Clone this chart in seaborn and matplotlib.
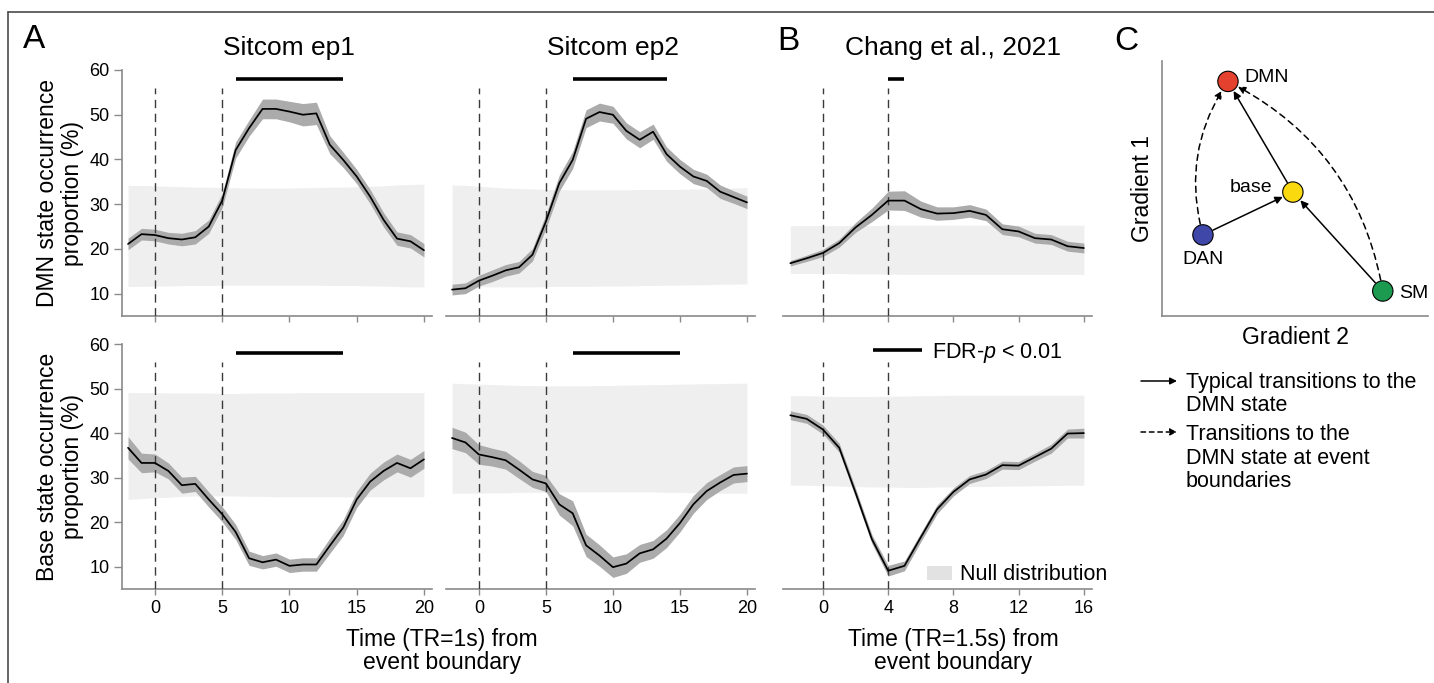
import numpy as np
import pandas as pd
import matplotlib
matplotlib.use("Agg")
import matplotlib.pyplot as plt
import seaborn as sns
from matplotlib.lines import Line2D
from matplotlib.patches import Patch

# ---------------- data ----------------
t_sitcom = [-2, -1, 0, 1, 2, 3, 4, 5, 6, 7, 8, 9, 10, 11, 12, 13, 14, 15, 16, 17, 18, 19, 20]
t_chang = [-2, -1, 0, 1, 2, 3, 4, 5, 6, 7, 8, 9, 10, 11, 12, 13, 14, 15, 16]

# DMN state occurrence (%)
dmn_ep1 = [21.1, 23.3, 23.1, 22.4, 22.1, 22.6, 25.0, 30.8, 42.1, 47.0, 51.3, 51.3, 50.7, 50.0, 50.3,
           43.3, 39.9, 36.2, 31.7, 26.5, 22.3, 21.7, 19.7]
dmn_ep1_err = [1.3, 1.3, 1.3, 1.3, 1.4, 1.5, 1.5, 1.6, 1.8, 1.8, 2.2, 2.2, 2.3, 2.5, 2.5,
               2.0, 1.7, 1.6, 1.6, 1.6, 1.5, 1.5, 1.5]
dmn_ep1_null_lo = [11.6, 11.6, 11.7, 11.7, 11.8, 11.8, 11.8, 11.9, 11.9, 11.9, 11.9, 11.9, 11.9, 11.9, 11.9,
                   11.8, 11.8, 11.8, 11.7, 11.7, 11.6, 11.5, 11.5]
dmn_ep1_null_hi = [34.2, 34.2, 34.1, 34.0, 33.9, 33.8, 33.8, 33.7, 33.7, 33.6, 33.6, 33.6, 33.6, 33.7, 33.7,
                   33.8, 33.8, 33.9, 34.0, 34.1, 34.3, 34.4, 34.5]
dmn_ep1_sig = [(6, 14)]

dmn_ep2 = [10.9, 11.2, 12.9, 14.0, 15.2, 15.9, 18.7, 26.1, 34.7, 39.9, 49.1, 50.6, 50.0, 46.4, 44.4,
           46.2, 41.2, 38.4, 36.2, 35.2, 32.8, 31.6, 30.4]
dmn_ep2_err = [1.2, 1.2, 1.2, 1.3, 1.3, 1.3, 1.4, 1.6, 1.8, 1.9, 2.0, 2.0, 1.9, 1.8, 1.8,
               1.7, 1.6, 1.6, 1.6, 1.5, 1.5, 1.4, 1.4]
dmn_ep2_null_lo = [11.6, 11.6, 11.6, 11.5, 11.5, 11.5, 11.5, 11.6, 11.6, 11.6, 11.6, 11.7, 11.7, 11.7, 11.8,
                   11.8, 11.9, 11.9, 12.0, 12.0, 12.1, 12.1, 12.2]
dmn_ep2_null_hi = [34.3, 34.2, 34.0, 33.8, 33.6, 33.5, 33.4, 33.3, 33.3, 33.2, 33.2, 33.2, 33.2, 33.2, 33.3,
                   33.3, 33.3, 33.3, 33.4, 33.4, 33.5, 33.6, 33.7]
dmn_ep2_sig = [(7, 14)]

dmn_chang = [16.8, 17.9, 19.1, 21.3, 24.8, 27.6, 30.8, 30.8, 28.9, 27.9, 28.0, 28.5, 27.6, 24.4, 23.9,
             22.4, 22.1, 20.6, 20.2]
dmn_chang_err = [0.6, 0.7, 0.8, 0.9, 1.1, 1.5, 2.1, 2.2, 1.8, 1.5, 1.4, 1.4, 1.3, 1.2, 1.2,
                 1.1, 1.1, 1.1, 1.1]
dmn_chang_null_lo = [14.5, 14.5, 14.5, 14.5, 14.4, 14.4, 14.4, 14.3, 14.3, 14.3, 14.3, 14.3, 14.3, 14.3, 14.3,
                     14.3, 14.3, 14.3, 14.3]
dmn_chang_null_hi = [25.2, 25.2, 25.2, 25.2, 25.2, 25.2, 25.3, 25.3, 25.3, 25.3, 25.3, 25.3, 25.3, 25.3, 25.3,
                     25.3, 25.3, 25.3, 25.3]
dmn_chang_sig = [(4, 5)]

# Base state occurrence (%)
base_ep1 = [36.7, 33.3, 33.3, 31.5, 28.3, 28.6, 25.1, 21.8, 17.8, 11.9, 11.0, 11.6, 10.2, 10.5, 10.5,
            14.7, 18.8, 25.1, 29.1, 31.5, 33.3, 32.1, 34.1]
base_ep1_err = [2.5, 2.2, 2.0, 1.8, 1.8, 1.7, 1.7, 1.7, 1.7, 1.6, 1.5, 1.5, 1.5, 1.5, 1.5,
                1.7, 1.8, 1.8, 1.9, 2.0, 2.0, 2.0, 2.0]
base_ep1_null_lo = [25.1, 25.3, 25.5, 25.6, 25.8, 25.9, 25.9, 25.9, 25.9, 25.8, 25.8, 25.7, 25.7, 25.7, 25.7,
                    25.7, 25.7, 25.7, 25.7, 25.7, 25.7, 25.7, 25.7]
base_ep1_null_hi = [49.1, 49.1, 49.1, 49.0, 49.0, 49.0, 49.0, 48.9, 48.9, 49.0, 49.0, 49.0, 49.0, 49.1, 49.1,
                    49.1, 49.1, 49.1, 49.1, 49.1, 49.1, 49.1, 49.1]
base_ep1_sig = [(6, 14)]

base_ep2 = [38.9, 37.9, 35.2, 34.6, 33.9, 31.8, 29.6, 28.7, 24.0, 22.0, 14.8, 12.5, 9.9, 10.7, 13.0,
            13.9, 16.3, 19.8, 24.0, 27.0, 28.9, 30.6, 30.9]
base_ep2_err = [2.4, 2.3, 2.2, 2.0, 2.0, 2.0, 1.8, 1.8, 2.4, 2.8, 2.5, 2.4, 2.3, 2.2, 2.0,
                2.0, 2.0, 2.0, 2.0, 1.9, 1.8, 1.8, 1.8]
base_ep2_null_lo = [26.5, 26.5, 26.5, 26.6, 26.6, 26.7, 26.7, 26.7, 26.8, 26.8, 26.8, 26.8, 26.8, 26.8, 26.8,
                    26.8, 26.7, 26.7, 26.6, 26.6, 26.5, 26.5, 26.5]
base_ep2_null_hi = [51.2, 51.1, 51.0, 50.9, 50.8, 50.7, 50.7, 50.6, 50.6, 50.6, 50.6, 50.7, 50.7, 50.8, 50.8,
                    50.9, 50.9, 51.0, 51.0, 51.1, 51.1, 51.2, 51.2]
base_ep2_sig = [(7, 15)]

base_chang = [44.0, 43.2, 40.8, 36.7, 26.6, 16.2, 9.1, 10.2, 16.6, 22.9, 26.8, 29.6, 30.7, 32.8, 32.7,
              34.6, 36.5, 39.9, 40.0]
base_chang_err = [1.0, 1.0, 1.0, 1.0, 1.0, 1.0, 1.2, 1.1, 1.0, 1.0, 0.9, 0.9, 0.9, 0.9, 0.9,
                  0.9, 1.0, 1.0, 1.1]
base_chang_null_lo = [28.3, 28.3, 28.2, 28.1, 28.0, 27.9, 27.9, 27.8, 27.8, 27.9, 27.9, 28.0, 28.0, 28.1, 28.1,
                      28.2, 28.2, 28.3, 28.3]
base_chang_null_hi = [48.4, 48.4, 48.3, 48.2, 48.2, 48.2, 48.3, 48.3, 48.4, 48.4, 48.5, 48.5, 48.5, 48.5, 48.5,
                      48.5, 48.5, 48.5, 48.5]
base_chang_sig = []

boundaries_sitcom = [0, 5]
boundaries_chang = [0, 4]
xticks_sitcom = [0, 5, 10, 15, 20]
xticks_chang = [0, 4, 8, 12, 16]
yticks = [10, 20, 30, 40, 50, 60]

# Panel C: state positions on the gradient plane
state_names = ["DMN", "base", "DAN", "SM"]
gradient2 = [0.248, 0.492, 0.154, 0.830]
gradient1 = [0.920, 0.486, 0.318, 0.098]
state_colors = ["#e4412f", "#fbd90f", "#3f47a8", "#1b9a50"]
typical_transitions = [("DAN", "base"), ("SM", "base"), ("base", "DMN")]
boundary_transitions = [("DAN", "DMN"), ("SM", "DMN")]

# ---------------- style ----------------
sns.set_theme(style="ticks")
plt.rcParams["font.family"] = ["Liberation Sans", "DejaVu Sans"]
plt.rcParams["mathtext.fontset"] = "custom"
plt.rcParams["mathtext.it"] = "Liberation Sans:italic"
plt.rcParams["mathtext.rm"] = "Liberation Sans"
plt.rcParams["text.color"] = "black"
plt.rcParams["axes.labelcolor"] = "black"
plt.rcParams["xtick.labelcolor"] = "black"
plt.rcParams["ytick.labelcolor"] = "black"

W, H = 1434, 683
fig = plt.figure(figsize=(W / 100, H / 100), dpi=100)


def px_axes(left, top, right, bottom):
    return fig.add_axes([left / W, 1 - bottom / H, (right - left) / W, (bottom - top) / H])


SPINE = "#8a8a8a"
BAND = "#ababab"
NULL = "#efefef"


def draw_panel(ax, t, mean, err, nlo, nhi, sig, bounds, xticks, xlim, show_y, show_xlabels, ylabel=None):
    t = np.asarray(t, float)
    mean = np.asarray(mean, float)
    err = np.asarray(err, float)
    ax.fill_between(t, nlo, nhi, color=NULL, lw=0, zorder=1)
    ax.fill_between(t, mean - err, mean + err, color=BAND, lw=0, zorder=2)
    ax.vlines(bounds, 5, 56, colors="#3a3a3a", linestyles=(0, (6, 4)), lw=1.0, zorder=3)
    df = pd.DataFrame({"t": t, "v": mean})
    sns.lineplot(data=df, x="t", y="v", ax=ax, color="black", lw=1.25, zorder=4)
    for a, b in sig:
        ax.plot([a, b], [58, 58], color="black", lw=2.6, solid_capstyle="butt", zorder=4)
    ax.set_xlim(*xlim)
    ax.set_ylim(5, 60)
    ax.set_xticks(xticks)
    ax.set_yticks(yticks)
    ax.set_xlabel("")
    ax.set_ylabel("")
    for s in ["top", "right"]:
        ax.spines[s].set_visible(False)
    for s in ["left", "bottom"]:
        ax.spines[s].set_color(SPINE)
        ax.spines[s].set_linewidth(1.2)
    ax.tick_params(axis="x", direction="out", length=4, width=1, color=SPINE,
                   labelsize=13, pad=4, labelbottom=show_xlabels)
    ax.tick_params(axis="y", direction="out", length=6, width=1, color=SPINE,
                   labelsize=13, pad=3)
    if show_y:
        if ylabel:
            ax.set_ylabel(ylabel, fontsize=16.5, linespacing=1.1, labelpad=4)
    else:
        ax.spines["left"].set_visible(False)
        ax.tick_params(axis="y", left=False, labelleft=False)


xlim_s = (-2.45, 20.6)
xlim_c = (-2.45, 16.5)

ax1 = px_axes(122, 70, 432, 316)
ax2 = px_axes(446, 70, 755, 316)
ax3 = px_axes(783, 70, 1092, 316)
ax4 = px_axes(122, 344, 432, 589)
ax5 = px_axes(446, 344, 755, 589)
ax6 = px_axes(783, 344, 1092, 589)

draw_panel(ax1, t_sitcom, dmn_ep1, dmn_ep1_err, dmn_ep1_null_lo, dmn_ep1_null_hi, dmn_ep1_sig,
           boundaries_sitcom, xticks_sitcom, xlim_s, True, False, "DMN state occurrence\nproportion (%)")
draw_panel(ax2, t_sitcom, dmn_ep2, dmn_ep2_err, dmn_ep2_null_lo, dmn_ep2_null_hi, dmn_ep2_sig,
           boundaries_sitcom, xticks_sitcom, xlim_s, False, False)
draw_panel(ax3, t_chang, dmn_chang, dmn_chang_err, dmn_chang_null_lo, dmn_chang_null_hi, dmn_chang_sig,
           boundaries_chang, xticks_chang, xlim_c, False, False)
draw_panel(ax4, t_sitcom, base_ep1, base_ep1_err, base_ep1_null_lo, base_ep1_null_hi, base_ep1_sig,
           boundaries_sitcom, xticks_sitcom, xlim_s, True, True, "Base state occurrence\nproportion (%)")
draw_panel(ax5, t_sitcom, base_ep2, base_ep2_err, base_ep2_null_lo, base_ep2_null_hi, base_ep2_sig,
           boundaries_sitcom, xticks_sitcom, xlim_s, False, True)
draw_panel(ax6, t_chang, base_chang, base_chang_err, base_chang_null_lo, base_chang_null_hi, base_chang_sig,
           boundaries_chang, xticks_chang, xlim_c, False, True)

# legends in lower-right time panel
leg1 = ax6.legend(handles=[Line2D([], [], color="black", lw=2.6, solid_capstyle="butt")],
                  labels=["FDR-$p$ < 0.01"], loc="center left",
                  bbox_to_anchor=(873 / W, 1 - 352.7 / H), bbox_transform=fig.transFigure,
                  frameon=False, fontsize=15.5, handlelength=2.28, handletextpad=0.45,
                  borderpad=0, borderaxespad=0)
ax6.add_artist(leg1)
ax6.legend(handles=[Patch(facecolor="#e2e2e2", edgecolor="none")], labels=["Null distribution"],
           loc="center left", bbox_to_anchor=(927 / W, 1 - 575 / H), bbox_transform=fig.transFigure,
           frameon=False, fontsize=15.5, handlelength=1.16, handleheight=0.6, handletextpad=0.37,
           borderpad=0, borderaxespad=0)

# titles, x labels, panel letters
fig.text(289 / W, 1 - 55 / H, "Sitcom ep1", ha="center", va="baseline", fontsize=19)
fig.text(613 / W, 1 - 55 / H, "Sitcom ep2", ha="center", va="baseline", fontsize=19)
fig.text(953 / W, 1 - 55 / H, "Chang et al., 2021", ha="center", va="baseline", fontsize=19)
fig.text(442 / W, 1 - 651 / H, "Time (TR=1s) from\nevent boundary", ha="center", va="center",
         fontsize=16.5, linespacing=1.05)
fig.text(953 / W, 1 - 651 / H, "Time (TR=1.5s) from\nevent boundary", ha="center", va="center",
         fontsize=16.5, linespacing=1.05)
fig.text(23 / W, 1 - 40 / H, "A", ha="left", va="center", fontsize=24)
fig.text(777 / W, 1 - 42 / H, "B", ha="left", va="center", fontsize=24)
fig.text(1114 / W, 1 - 42 / H, "C", ha="left", va="center", fontsize=24)

# ---------------- panel C ----------------
axC = px_axes(1162, 61, 1428, 316)
nodes = pd.DataFrame({"state": state_names, "g2": gradient2, "g1": gradient1})
sns.scatterplot(data=nodes, x="g2", y="g1", hue="state", palette=dict(zip(state_names, state_colors)),
                s=215, edgecolor="black", linewidth=0.8, legend=False, ax=axC, zorder=5)
axC.set_xlim(0, 1)
axC.set_ylim(0, 1)
axC.set_xticks([])
axC.set_yticks([])
for s in ["top", "right"]:
    axC.spines[s].set_visible(False)
for s in ["left", "bottom"]:
    axC.spines[s].set_color(SPINE)
    axC.spines[s].set_linewidth(1.2)
axC.set_xlabel("Gradient 2", fontsize=16.5, labelpad=7)
axC.set_ylabel("Gradient 1", fontsize=16.5, labelpad=6)

pos = {n: (x, y) for n, x, y in zip(state_names, gradient2, gradient1)}
for a, b in typical_transitions:
    axC.annotate("", xy=pos[b], xytext=pos[a], xycoords="data",
                 arrowprops=dict(arrowstyle="-|>", color="black", lw=1.1, shrinkA=8, shrinkB=8,
                                 mutation_scale=11), zorder=4)
rads = {("DAN", "DMN"): -0.23, ("SM", "DMN"): 0.25}
for a, b in boundary_transitions:
    axC.annotate("", xy=pos[b], xytext=pos[a], xycoords="data",
                 arrowprops=dict(arrowstyle="-|>", color="black", lw=1.1, shrinkA=8, shrinkB=8,
                                 linestyle=(0, (4, 3)), mutation_scale=11,
                                 connectionstyle=f"arc3,rad={rads[(a, b)]}"), zorder=4)

label_offsets = {"DMN": ((11.5, 3), "left", "center"), "base": ((-14.5, 3.5), "right", "center"),
                 "DAN": ((0, -18), "center", "center"), "SM": ((11.5, -1.5), "left", "center")}
for n in state_names:
    off, ha, va = label_offsets[n]
    axC.annotate(n, xy=pos[n], xytext=off, textcoords="offset points", ha=ha, va=va, fontsize=14)

# legend for arrows
axC.annotate("", xy=(1177 / W, 1 - 381 / H), xytext=(1141 / W, 1 - 381 / H), xycoords="figure fraction",
             arrowprops=dict(arrowstyle="-|>", color="black", lw=1.1, shrinkA=0, shrinkB=0, mutation_scale=10))
axC.annotate("", xy=(1177 / W, 1 - 432 / H), xytext=(1141 / W, 1 - 432 / H), xycoords="figure fraction",
             arrowprops=dict(arrowstyle="-|>", color="black", lw=1.1, shrinkA=0, shrinkB=0,
                             linestyle=(0, (3, 2.5)), mutation_scale=10))
fig.text(1186 / W, 1 - 394 / H, "Typical transitions to the\nDMN state", ha="left", va="center",
         fontsize=15.5, linespacing=1.18)
fig.text(1186 / W, 1 - 458 / H, "Transitions to the\nDMN state at event\nboundaries", ha="left", va="center",
         fontsize=15.5, linespacing=1.18)

# outer frame (top and left)
fig.add_artist(Line2D([8 / W, 1], [1 - 12 / H, 1 - 12 / H], transform=fig.transFigure, color="#4a4a4a", lw=1.2))
fig.add_artist(Line2D([8 / W, 8 / W], [0, 1 - 12 / H], transform=fig.transFigure, color="#4a4a4a", lw=1.2))

fig.savefig("out.png", dpi=100)
